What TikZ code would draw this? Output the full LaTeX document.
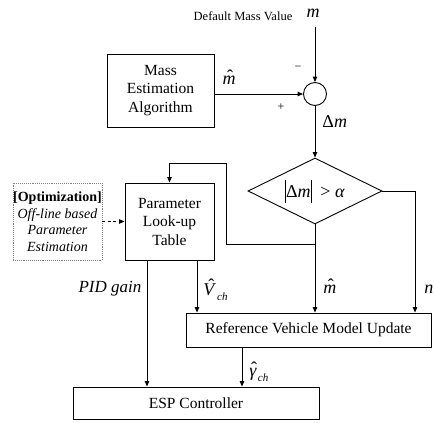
\documentclass[tikz,border=0pt]{standalone}
\usepackage{fontspec}
\setmainfont{Liberation Serif}
\usetikzlibrary{shapes.geometric,arrows.meta}
% italic letter with a circumflex hat: #1 letter, #2 sideways shift, #3 raise
\newcommand{\hatit}[3]{\ooalign{\textit{#1}\cr\hidewidth\kern#2\raisebox{#3}{\upshape ˆ}\hidewidth\cr}}
% small lowered italic subscript
\newcommand{\subit}[1]{\kern1pt\raisebox{-5pt}{\fontsize{11}{12}\selectfont\itshape #1}}
% tall absolute-value bar
\newcommand{\tallbar}{\rule[-5.5pt]{0.8pt}{23pt}}
\begin{document}
\begin{tikzpicture}[x=1pt,y=-1pt,line width=0.9pt,
  blk/.style={draw,rectangle,align=center,inner sep=0pt,
    font=\fontsize{15.5}{18.5}\selectfont},
  arr/.style={-{Triangle[length=5.5pt,width=4.5pt]}},
  lbl/.style={inner sep=0pt,font=\fontsize{18}{20}\selectfont},
  sgn/.style={inner sep=0pt,font=\fontsize{12}{14}\selectfont}]
\useasboundingbox (0,0) rectangle (434,423);

% blocks
\node[blk,minimum width=107pt,minimum height=73pt] (mass) at (160.5,90.5)
  {Mass\\Estimation\\Algorithm};
\node[draw,circle,minimum size=23pt,inner sep=0pt] (sum) at (315,94) {};
\node[draw,diamond,aspect=2,minimum width=134pt,minimum height=66pt,
  inner sep=0pt,font=\fontsize{18}{20}\selectfont] (dia) at (315,191)
  {\tallbar Δ\textit{m}\tallbar\ \ > \textit{α}};
\node[blk,minimum width=89pt,minimum height=77pt] (param) at (169.5,221.5)
  {Parameter\\Look-up\\Table};
\node[draw=gray,densely dotted,rectangle,align=center,inner sep=0pt,
  minimum width=89pt,minimum height=77pt,
  font=\fontsize{14}{16.5}\selectfont] (opt) at (57.5,221.5)
  {\textbf{[Optimization]}\\\textit{Off-line based}\\\textit{Parameter}\\\textit{Estimation}};
\node[blk,minimum width=245pt,minimum height=34pt] (ref) at (308.5,330)
  {Reference Vehicle Model Update};
\node[blk,minimum width=246pt,minimum height=32pt] (esp) at (196,403)
  {ESP Controller};

% connector end points
\coordinate (top) at (315,27);
\coordinate (br) at (315,244);
\coordinate (fb1) at (226,244);
\coordinate (fb2) at (226,163);
\coordinate (fb3) at (169.5,163);
\coordinate (rc) at (415,191);
\coordinate (pid) at (147,260);
\coordinate (vch) at (197,260);
\coordinate (gam) at (242,347);

% connectors
\draw[arr] (top) -- (sum.north);
\draw[arr] (mass.east |- sum) -- (sum.west);
\draw[arr] (sum.south) -- (dia.north);
\draw[arr] (dia.south) -- (dia.south |- ref.north);
\draw[arr] (br) -- (fb1) -- (fb2) -- (fb3) -- (param.north);
\draw[arr] (dia.east) -- (rc) -- (rc |- ref.north);
\draw[arr,dash pattern=on 3pt off 2.5pt] (opt.east) -- (param.west);
\draw[arr] (pid) -- (pid |- esp.north);
\draw[arr] (vch) -- (vch |- ref.north);
\draw[arr] (gam) -- (gam |- esp.north);

% labels
\node[inner sep=0pt,font=\fontsize{12.5}{14}\selectfont] (dmv) at (243,16) {Default Mass Value};
\node[lbl] (lm) at (313,13) {\textit{m}};
\node[sgn] (minus) at (298,68) {−};
\node[sgn] (plus) at (281,107) {+};
\node[lbl] (lmh) at (229,80) {\hatit{m}{2pt}{2pt}};
\node[lbl,anchor=west] (ldm) at (322,122) {Δ\textit{m}};
\node[inner sep=0pt,font=\fontsize{17}{20}\selectfont] (lpid) at (110,289) {\textit{PID gain}};
\node[lbl,anchor=base west] (lv) at (203,295) {\hatit{V}{3pt}{4pt}\subit{ch}};
\node[lbl,anchor=base west] (lmh2) at (323,293) {\hatit{m}{2pt}{2pt}};
\node[lbl,anchor=base west] (ln) at (424,293) {\textit{n}};
\node[lbl,anchor=base west] (lg) at (249,376) {\hatit{γ}{2pt}{2pt}\subit{ch}};
\end{tikzpicture}
\end{document}
